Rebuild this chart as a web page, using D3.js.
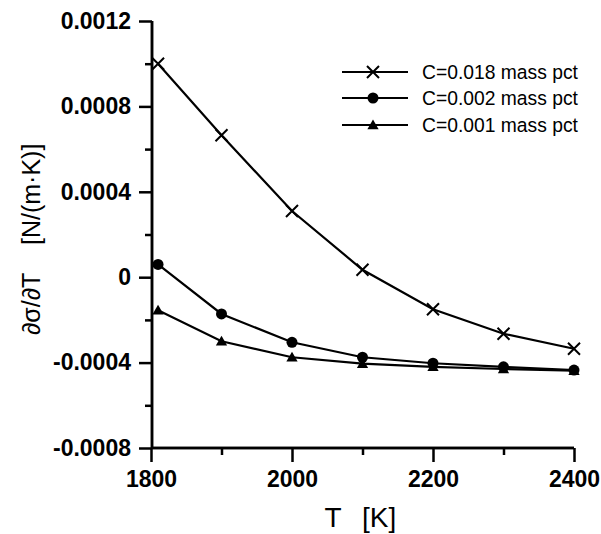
<!DOCTYPE html>
<html>
<head>
<meta charset="utf-8">
<script src="https://cdn.jsdelivr.net/npm/d3@7"></script>
<style>
  html, body { margin: 0; padding: 0; background: #fff; }
  svg { display: block; font-family: "Liberation Sans", Arial, sans-serif; }
</style>
</head>
<body>
<svg id="chart"></svg>
<script>
var temps = [1810, 1900, 2000, 2100, 2200, 2300, 2400];
var c018 = [0.00100, 0.000665, 0.00031, 0.000035, -0.00015, -0.000265, -0.000335];
var c002 = [0.00006, -0.000172, -0.000305, -0.000375, -0.000403, -0.00042, -0.000435];
var c001 = [-0.000155, -0.0003, -0.000375, -0.000405, -0.00042, -0.00043, -0.000438];
var seriesNames = ["C=0.018 mass pct", "C=0.002 mass pct", "C=0.001 mass pct"];
var seriesMarks = ["x", "circle", "triangle"];
var xMajor = [1800, 2000, 2200, 2400];
var xMinor = [1900, 2100, 2300];
var yMajor = [0.0012, 0.0008, 0.0004, 0, -0.0004, -0.0008];
var yLabels = ["0.0012", "0.0008", "0.0004", "0", "-0.0004", "-0.0008"];
var yMinor = [0.001, 0.0006, 0.0002, -0.0002, -0.0006];

var width = 601, height = 534;
var svg = d3.select('#chart')
  .attr('width', width)
  .attr('height', height);

var x = d3.scaleLinear().domain([1800, 2400]).range([151, 574]);
var y = d3.scaleLinear().domain([-0.0008, 0.0012]).range([448, 21]);

// axes
svg.append('g').attr('class', 'xax').attr('transform', 'translate(0,448)')
  .call(d3.axisBottom(x).tickValues(xMajor).tickSize(14).tickPadding(9).tickFormat(d3.format('d')));
svg.append('g').attr('class', 'xax').attr('transform', 'translate(0,448)')
  .call(d3.axisBottom(x).tickValues(xMinor).tickSize(7).tickFormat(''));
svg.append('g').attr('class', 'yax').attr('transform', 'translate(152,0)')
  .call(d3.axisLeft(y).tickValues(yMajor).tickSize(13).tickPadding(8)
    .tickFormat(function (d, i) { return yLabels[i]; }));
svg.append('g').attr('class', 'yax').attr('transform', 'translate(152,0)')
  .call(d3.axisLeft(y).tickValues(yMinor).tickSize(7).tickFormat(''));

svg.selectAll('.domain').attr('stroke', '#000').attr('stroke-width', 2.5);
svg.selectAll('.xax .domain').attr('d', 'M' + x.range()[0] + ',0H' + x.range()[1]);
svg.selectAll('.yax .domain').attr('d', 'M0,' + y.range()[0] + 'V' + y.range()[1]);
svg.selectAll('.tick line').attr('stroke', '#000').attr('stroke-width', 2.5);
svg.selectAll('.tick text')
  .attr('fill', '#000')
  .style('font-family', '"Liberation Sans", Arial, sans-serif')
  .style('font-size', '23px')
  .style('font-weight', 'bold');

// axis titles
svg.append('text')
  .attr('transform', 'translate(40,335) rotate(-90)')
  .attr('font-size', 25)
  .text('∂σ/∂T');
svg.append('text')
  .attr('transform', 'translate(40,245) rotate(-90)')
  .attr('font-size', 25)
  .text('[N/(m·K)]');
svg.append('text')
  .attr('x', 333).attr('y', 527)
  .attr('text-anchor', 'middle')
  .attr('font-size', 28)
  .text('T');
svg.append('text')
  .attr('x', 362).attr('y', 527)
  .attr('font-size', 28)
  .text('[K]');

function drawMark(g, type, cx, cy) {
  if (type === 'x') {
    g.append('path')
      .attr('d', 'M' + (cx - 6) + ',' + (cy - 6) + 'L' + (cx + 6) + ',' + (cy + 6) +
        'M' + (cx - 6) + ',' + (cy + 6) + 'L' + (cx + 6) + ',' + (cy - 6))
      .attr('stroke', '#000').attr('stroke-width', 2).attr('fill', 'none');
  } else if (type === 'circle') {
    g.append('circle').attr('cx', cx).attr('cy', cy).attr('r', 5.5).attr('fill', '#000');
  } else {
    g.append('path')
      .attr('d', d3.symbol().type(d3.symbolTriangle).size(55)())
      .attr('transform', 'translate(' + cx + ',' + (cy + 1) + ')')
      .attr('fill', '#000');
  }
}

var allSeries = [c018, c002, c001];
var line = d3.line()
  .x(function (d, i) { return x(temps[i]); })
  .y(function (d) { return y(d); });

allSeries.forEach(function (vals, k) {
  var g = svg.append('g');
  g.append('path')
    .attr('d', line(vals))
    .attr('fill', 'none')
    .attr('stroke', '#000')
    .attr('stroke-width', 2.2);
  vals.forEach(function (v, i) {
    drawMark(g, seriesMarks[k], x(temps[i]), y(v));
  });
});

// legend
var legendY = [72, 98, 125];
seriesNames.forEach(function (name, k) {
  var g = svg.append('g');
  g.append('line')
    .attr('x1', 342).attr('x2', 408)
    .attr('y1', legendY[k]).attr('y2', legendY[k])
    .attr('stroke', '#000').attr('stroke-width', 2);
  drawMark(g, seriesMarks[k], 373, legendY[k]);
  g.append('text')
    .attr('x', 422).attr('y', legendY[k] + 6.5)
    .attr('font-size', 19.3)
    .text(name);
});
</script>
</body>
</html>
